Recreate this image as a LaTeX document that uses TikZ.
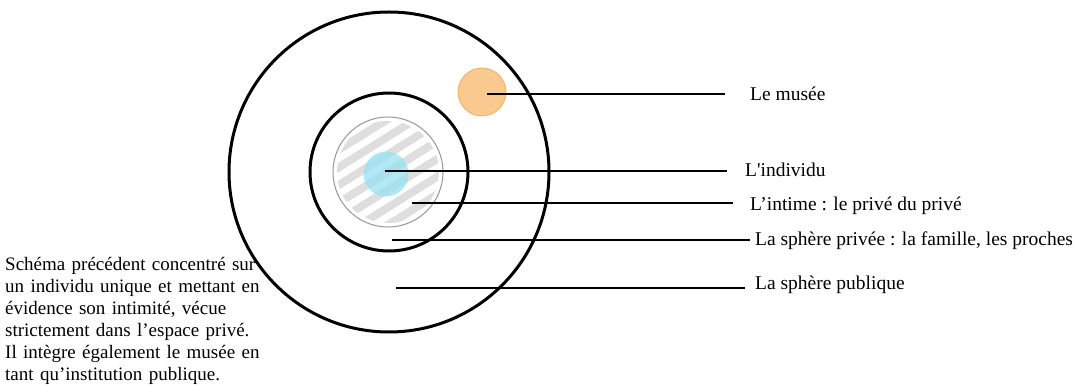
\documentclass[tikz,border=0pt]{standalone}
\usepackage{fontspec}
\setmainfont{Liberation Serif}
\usetikzlibrary{positioning}
\definecolor{museeFill}{RGB}{249,201,143}
\definecolor{museeLine}{RGB}{238,176,96}
\definecolor{indivFill}{RGB}{150,226,242}
\definecolor{intimeLine}{RGB}{150,150,150}
\definecolor{hatchGray}{RGB}{222,222,222}
\tikzset{
  ring/.style={circle,draw=black,line width=3pt,inner sep=0pt},
  leader/.style={line width=1.2pt},
  legende/.style={font=\fontsize{19.5}{21}\selectfont,inner sep=0pt},
}
\begin{document}
\begin{tikzpicture}[x=1pt,y=-1pt]
\useasboundingbox (0,0) rectangle (1075,387);
% les spheres
\node[ring,minimum size=320pt] (publique) at (389,172) {};
\node[ring,minimum size=158pt] (privee) at (389,172) {};
% l'intime, hachure
\begin{scope}
  \clip (388,172) circle (51);
  \begin{scope}[shift={(388,172)},rotate=32]
    \foreach \k in {-4,...,4}
      \draw[hatchGray,line width=8pt,line cap=round] (-70,\k*15) -- (70,\k*15);
  \end{scope}
\end{scope}
\node[circle,draw=intimeLine,line width=1pt,minimum size=110pt,inner sep=0pt] (intime) at (388,172) {};
\node[circle,fill=indivFill,fill opacity=0.75,minimum size=45pt,inner sep=0pt] (individu) at (386,174) {};
\node[circle,fill=museeFill,draw=museeLine,line width=0.8pt,minimum size=48pt,inner sep=0pt] (musee) at (482,92) {};

% traits de legende
\coordinate (dMusee) at (487,94);
\coordinate (fMusee) at (725,94);
\coordinate (dIndiv) at (385,171);
\coordinate (fIndiv) at (727,171);
\coordinate (dIntime) at (412,203);
\coordinate (fIntime) at (733,203);
\coordinate (dPrivee) at (392,240);
\coordinate (fPrivee) at (750,240);
\coordinate (dPublic) at (396,288);
\coordinate (fPublic) at (745,288);

\node[legende,right=25pt of fMusee] (lMusee) {Le musée};
\node[legende,right=18pt of fIndiv,yshift=1pt] (lIndiv) {L\textquotesingle individu};
\node[legende,right=17pt of fIntime,yshift=-3pt] (lIntime) {L’intime : le privé du privé};
\node[legende,right=5pt of fPrivee,yshift=-1pt] (lPrivee) {La sphère privée : la famille, les proches};
\node[legende,right=10pt of fPublic,yshift=3pt] (lPublic) {La sphère publique};

\draw[leader] (dMusee) -- (fMusee);
\draw[leader] (dIndiv) -- (fIndiv);
\draw[leader] (dIntime) -- (fIntime);
\draw[leader] (dPrivee) -- (fPrivee);
\draw[leader] (dPublic) -- (fPublic);

% commentaire
\node[legende,font=\fontsize{19}{22}\selectfont,anchor=north west,text width=270pt,align=left] (note) at (5,257)
  {Schéma précédent concentré sur\\
   un individu unique et mettant en\\
   évidence son intimité, vécue\\
   strictement dans l’espace privé.\\
   Il intègre également le musée en\\
   tant qu’institution publique.};
\end{tikzpicture}
\end{document}
